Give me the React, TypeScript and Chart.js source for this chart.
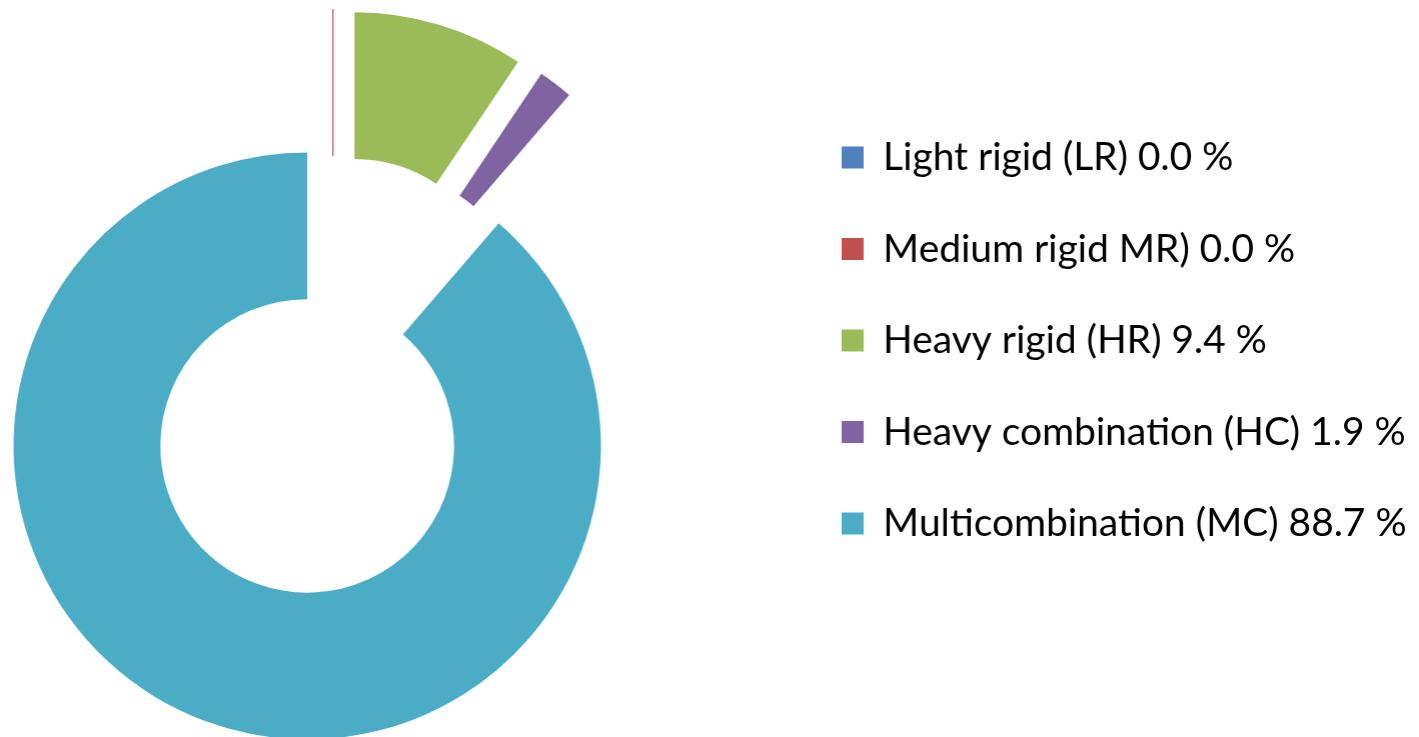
import React, { useEffect, useRef } from 'react';
import { Chart, registerables, ArcElement } from 'chart.js';

Chart.register(...registerables);

const categories = [
  'Light rigid (LR)',
  'Medium rigid MR)',
  'Heavy rigid (HR)',
  'Heavy combination (HC)',
  'Multicombination (MC)',
];
const shares = [0.0, 0.0, 9.4, 1.9, 88.7];
const sliceColors = ['#4F81BD', '#C0504D', '#9BBB59', '#8064A2', '#4BACC6'];

const EXPLODE = 74;

class ExplodedArc extends ArcElement {
  static id = 'explodedArc';
  draw(ctx: CanvasRenderingContext2D) {
    const self: any = this;
    const mid = (self.startAngle + self.endAngle) / 2;
    ctx.save();
    ctx.translate(Math.cos(mid) * EXPLODE, Math.sin(mid) * EXPLODE);
    if (self.circumference === 0) {
      const a = self.startAngle;
      ctx.strokeStyle = self.options.backgroundColor;
      ctx.lineWidth = 1;
      ctx.beginPath();
      ctx.moveTo(self.x + Math.cos(a) * self.innerRadius, self.y + Math.sin(a) * self.innerRadius);
      ctx.lineTo(self.x + Math.cos(a) * self.outerRadius, self.y + Math.sin(a) * self.outerRadius);
      ctx.stroke();
    } else {
      super.draw(ctx);
    }
    ctx.restore();
  }
}
Chart.register(ExplodedArc as any);
(Chart.defaults as any).datasets.doughnut.dataElementType = 'explodedArc';

const FONT_SIZE = 38.9;
const ITEM_PAD = 52.6;
const SHIFT = 122.8;

export default function App() {
  const ref = useRef<HTMLCanvasElement | null>(null);
  useEffect(() => {
    document.body.style.margin = '0';
    const labels = categories.map((cat, i) => `${cat} ${shares[i].toFixed(1)} %`);
    const chart = new Chart(ref.current!, {
      type: 'doughnut',
      data: {
        labels,
        datasets: [
          {
            data: shares,
            backgroundColor: sliceColors,
            borderWidth: 0,
            hoverOffset: 0,
            radius: 293.5,
            cutout: '50%',
            clip: false,
          } as any,
        ],
      },
      options: {
        responsive: true,
        maintainAspectRatio: false,
        animation: false,
        layout: { padding: { top: 85.45, bottom: 69.45, left: 0, right: 3.25 } },
        plugins: {
          legend: {
            position: 'right',
            align: 'start',
            labels: {
              boxWidth: 22,
              boxHeight: 22,
              padding: ITEM_PAD,
              color: '#000',
              font: { family: 'Lato', size: FONT_SIZE },
            },
          },
          tooltip: { enabled: false },
        },
      } as any,
    });
    return () => chart.destroy();
  }, []);
  return (
    <div style={{ width: 1419, height: 737, overflow: 'hidden', position: 'relative' }}>
      <div style={{ position: 'absolute', left: -SHIFT, top: 0, width: 1419 + SHIFT, height: 737 }}>
        <canvas ref={ref} />
      </div>
    </div>
  );
}
